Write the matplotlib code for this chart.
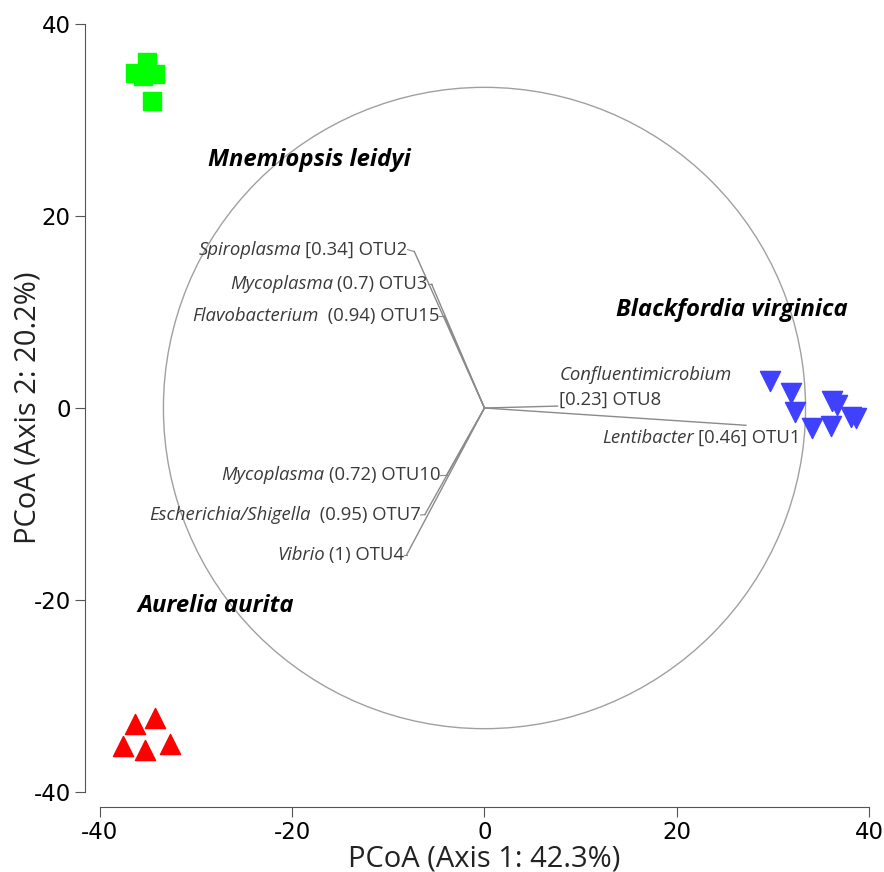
import matplotlib
matplotlib.use("Agg")
import matplotlib.pyplot as plt
from matplotlib.patches import Circle
from matplotlib.offsetbox import TextArea, HPacker, AnnotationBbox

# sample scores (PCoA axis 1, axis 2)
mnemiopsis_x = [-35.1, -36.4, -35.5, -34.3, -34.6]
mnemiopsis_y = [36.0, 34.9, 34.6, 34.8, 32.0]
aurelia_x = [-36.4, -34.3, -37.6, -35.3, -32.7]
aurelia_y = [-32.9, -32.3, -35.2, -35.6, -35.0]
blackfordia_x = [29.7, 31.9, 32.3, 34.1, 36.1, 36.2, 36.7, 38.1, 38.7]
blackfordia_y = [2.8, 1.6, -0.4, -2.1, -1.9, 0.7, 0.3, -0.9, -1.0]

# OTU vectors
otu_genus = ["Spiroplasma", "Mycoplasma", "Flavobacterium", "Mycoplasma",
             "Escherichia/Shigella", "Vibrio", "Confluentimicrobium", "Lentibacter"]
otu_rest = ["[0.34] OTU2", "(0.7) OTU3", " (0.94) OTU15", "(0.72) OTU10",
            " (0.95) OTU7", "(1) OTU4", "[0.23] OTU8", "[0.46] OTU1"]
otu_x = [-7.3, -5.5, -4.2, -3.95, -6.2, -8.1, 7.6, 27.2]
otu_y = [16.3, 12.9, 9.6, -7.0, -11.1, -15.3, 0.2, -1.8]

circle_radius = 33.4

# layout: label anchors
label_x = [-8.0, -5.9, -4.7, -4.6, -6.65, -8.4, 7.8, 12.2]
label_y = [16.5, 12.9, 9.6, -7.0, -11.15, -15.3, 0.9, -3.1]

plt.rcParams['font.family'] = ['Open Sans', 'DejaVu Sans']
plt.rcParams['axes.unicode_minus'] = False

fig = plt.figure(figsize=(8.84, 8.72), dpi=100)
ax = fig.add_axes([0.1131, 0.0917, 0.8699, 0.8808])
ax.set_xlim(-40, 40)
ax.set_ylim(-40, 40)

ax.add_patch(Circle((0, 0), circle_radius, fill=False, edgecolor="#a0a0a0", lw=1))

line_col = "#8a8a8a"
for i in range(len(otu_x)):
    ax.plot([0, otu_x[i]], [0, otu_y[i]], color=line_col, lw=1)
    if i < 6:
        ax.plot([otu_x[i], label_x[i]], [otu_y[i], label_y[i]], color=line_col, lw=0.8)

ax.scatter(mnemiopsis_x, mnemiopsis_y, marker="s", s=150, color="#00ff00", zorder=3)
ax.scatter(aurelia_x, aurelia_y, marker="^", s=210, color="#ff0000", zorder=3)
ax.scatter(blackfordia_x, blackfordia_y, marker="v", s=210, color="#4040ff", zorder=3)

tcol = "#3a3a3a"
fs = 13.3


def otu_label(x, y, genus, rest, align):
    parts = [TextArea(genus, textprops=dict(style="italic", color=tcol, fontsize=fs)),
             TextArea(rest, textprops=dict(color=tcol, fontsize=fs))]
    box = HPacker(children=parts, align="baseline", pad=0, sep=3)
    ab = AnnotationBbox(box, (x, y), xycoords="data", box_alignment=align,
                        frameon=False, pad=0)
    ax.add_artist(ab)


for i in range(6):
    otu_label(label_x[i], label_y[i], otu_genus[i], otu_rest[i], (1, 0.5))
# OTU8 on two lines
ax.text(label_x[6], label_y[6] + 2.5, otu_genus[6], style="italic", color=tcol,
        fontsize=fs, ha="left", va="center")
ax.text(label_x[6], label_y[6], otu_rest[6], color=tcol, fontsize=fs,
        ha="left", va="center")
otu_label(label_x[7], label_y[7], otu_genus[7], otu_rest[7], (0, 0.5))

sp = dict(fontsize=17.2, fontweight="bold", style="italic", ha="center", va="center")
ax.text(-18.2, 25.8, "Mnemiopsis leidyi", **sp)
ax.text(25.7, 10.2, "Blackfordia virginica", **sp)
ax.text(-28.0, -20.6, "Aurelia aurita", **sp)

for s in ["top", "right"]:
    ax.spines[s].set_visible(False)
for s in ["left", "bottom"]:
    ax.spines[s].set_position(("outward", 11))
    ax.spines[s].set_color("#555555")
ax.set_xticks([-40, -20, 0, 20, 40])
ax.set_yticks([-40, -20, 0, 20, 40])
ax.tick_params(length=7, color="#555555", labelsize=16.5, pad=3)
for lab in ax.get_xticklabels() + ax.get_yticklabels():
    lab.set_family("DejaVu Sans")

ax.set_xlabel("PCoA (Axis 1: 42.3%)", fontsize=21, color="#222222", labelpad=0)
ax.set_ylabel("PCoA (Axis 2: 20.2%)", fontsize=21, color="#222222")
ax.yaxis.set_label_coords(-57 / 769, 0.5)

fig.savefig("out.png", dpi=100)
